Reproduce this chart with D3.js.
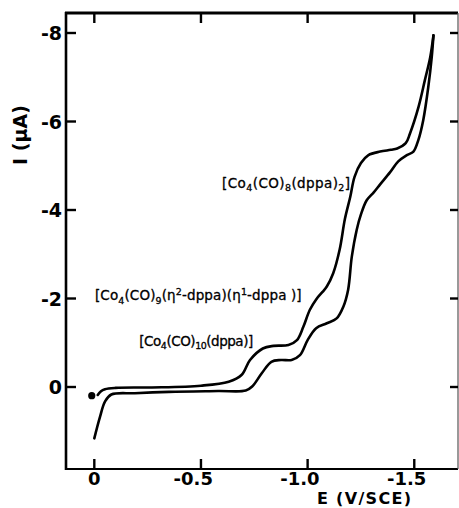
<!DOCTYPE html>
<html><head><meta charset="utf-8">
<script src="https://cdn.jsdelivr.net/npm/d3@7"></script>
<style>html,body{margin:0;padding:0;background:#fff;} svg{display:block;}</style>
</head><body>
<svg id="c" width="459" height="508"></svg>
<script>
// ---- data (E in V vs SCE, I in µA) ----
const upperCurveE = [-0.016,-0.03,-0.05,-0.10,-0.27,-0.50,-0.63,-0.69,-0.73,-0.79,-0.84,-0.91,-0.95,-0.98,-1.01,-1.04,-1.07,-1.09,-1.12,-1.15,-1.175,-1.20,-1.22,-1.25,-1.285,-1.34,-1.39,-1.42,-1.46,-1.48,-1.52,-1.55,-1.575,-1.59];
const upperCurveI = [0.18,0.10,0.05,0.02,0.01,-0.03,-0.12,-0.27,-0.61,-0.87,-0.93,-0.95,-1.06,-1.36,-1.74,-1.98,-2.15,-2.27,-2.57,-3.10,-3.8,-4.30,-4.75,-5.06,-5.24,-5.32,-5.36,-5.39,-5.51,-5.73,-6.33,-6.94,-7.46,-7.95];
const lowerCurveE = [0.0,-0.027,-0.05,-0.08,-0.19,-0.35,-0.58,-0.71,-0.74,-0.785,-0.83,-0.875,-0.925,-0.964,-1.00,-1.04,-1.09,-1.136,-1.167,-1.19,-1.207,-1.23,-1.25,-1.277,-1.31,-1.34,-1.386,-1.425,-1.465,-1.496,-1.519,-1.542,-1.566,-1.582,-1.59];
const lowerCurveI = [1.16,0.67,0.33,0.17,0.14,0.11,0.09,0.08,-0.01,-0.31,-0.57,-0.61,-0.61,-0.72,-1.06,-1.33,-1.44,-1.55,-1.81,-2.2,-2.94,-3.55,-3.9,-4.22,-4.40,-4.58,-4.85,-5.10,-5.24,-5.32,-5.58,-6.03,-6.79,-7.46,-7.95];
const startPointE = [0.012];
const startPointI = [0.197];

const xTickValues = [0, -0.5, -1.0, -1.5];
const xTickLabels = ["0", "-0.5", "-1.0", "-1.5"];
const yTickValues = [-8, -6, -4, -2, 0];
const yTickLabels = ["-8", "-6", "-4", "-2", "0"];
const xAxisTitle = "E (V/SCE)";
const yAxisTitle = "I (μA)";

// annotation text pieces: [text, kind]
const annotationTexts = [
  [["[Co","n"],["4","sub"],["(CO)","n"],["8","sub"],["(dppa)","n"],["2","sub"],["]","n"]],
  [["[Co","n"],["4","sub"],["(CO)","n"],["9","sub"],["(η","n"],["2","sup"],["-dppa)(η","n"],["1","sup"],["-dppa )]","n"]],
  [["[Co","n"],["4","sub"],["(CO)","n"],["10","sub"],["(dppa)]","n"]]
];
const annotationStartE = [-0.599, -0.003, -0.211];
const annotationEndE   = [-1.199, -0.972, -0.745];
const annotationI      = [-4.50, -1.966, -0.927];

// ---- layout ----
const L = 66, R = 458, T = 13, B = 469;
const x = d3.scaleLinear().domain([0.1327, -1.705]).range([L, R]);
const y = d3.scaleLinear().domain([1.853, -8.452]).range([B, T]);

const svg = d3.select("#c");
const tickFont = "'DejaVu Sans', 'Liberation Sans', Arial, sans-serif";

// curves
const line = d3.line().x(d => x(d[0])).y(d => y(d[1])).curve(d3.curveCatmullRom.alpha(0.5));
const upper = upperCurveE.map((e, i) => [e, upperCurveI[i]]);
const lower = lowerCurveE.map((e, i) => [e, lowerCurveI[i]]);
svg.selectAll("path.curve").data([upper, lower]).enter().append("path")
  .attr("class", "curve").attr("d", line)
  .attr("fill", "none").attr("stroke", "#000").attr("stroke-width", 2.6)
  .attr("stroke-linejoin", "round").attr("stroke-linecap", "round");

svg.selectAll("circle.start").data(startPointE).enter().append("circle")
  .attr("cx", d => x(d)).attr("cy", (d, i) => y(startPointI[i])).attr("r", 3.6).attr("fill", "#000");

// frame
svg.append("line").attr("x1", L).attr("x2", L).attr("y1", T - 1).attr("y2", B + 1).attr("stroke", "#000").attr("stroke-width", 2.6);
svg.append("line").attr("x1", L - 1).attr("x2", R).attr("y1", T).attr("y2", T).attr("stroke", "#000").attr("stroke-width", 2.8);
svg.append("line").attr("x1", L - 1).attr("x2", R).attr("y1", B).attr("y2", B).attr("stroke", "#000").attr("stroke-width", 2.2);
svg.append("line").attr("x1", R).attr("x2", R).attr("y1", T).attr("y2", B).attr("stroke", "#555").attr("stroke-width", 1.2);

// ticks (inward)
const tk = 10;
xTickValues.forEach(v => {
  svg.append("line").attr("x1", x(v)).attr("x2", x(v)).attr("y1", B).attr("y2", B - tk).attr("stroke", "#000").attr("stroke-width", 2.4);
  svg.append("line").attr("x1", x(v)).attr("x2", x(v)).attr("y1", T).attr("y2", T + tk).attr("stroke", "#000").attr("stroke-width", 2.4);
});
yTickValues.forEach(v => {
  svg.append("line").attr("x1", L).attr("x2", L + tk).attr("y1", y(v)).attr("y2", y(v)).attr("stroke", "#000").attr("stroke-width", 2.4);
  svg.append("line").attr("x1", R).attr("x2", R - 8).attr("y1", y(v)).attr("y2", y(v)).attr("stroke", "#000").attr("stroke-width", 2.4);
});

// tick labels
svg.selectAll("text.xt").data(xTickValues).enter().append("text")
  .attr("class", "xt")
  .attr("x", d => d === 0 ? x(d) : x(d) + 12)
  .attr("y", 484.5)
  .attr("text-anchor", d => d === 0 ? "middle" : "end")
  .attr("font-family", tickFont).attr("font-weight", "bold").attr("font-size", 18)
  .text((d, i) => xTickLabels[i]);
svg.selectAll("text.yt").data(yTickValues).enter().append("text")
  .attr("class", "yt")
  .attr("x", 62).attr("y", d => y(d) + 7)
  .attr("text-anchor", "end")
  .attr("font-family", tickFont).attr("font-weight", "bold").attr("font-size", 19)
  .text((d, i) => yTickLabels[i]);

// axis titles
svg.append("text").attr("x", 364).attr("y", 504).attr("text-anchor", "middle")
  .attr("font-family", tickFont).attr("font-weight", "bold").attr("font-size", 16)
  .attr("textLength", 94).attr("lengthAdjust", "spacing").text(xAxisTitle);
svg.append("text").attr("transform", "translate(27,135) rotate(-90)").attr("text-anchor", "middle")
  .attr("font-family", tickFont).attr("font-weight", "bold").attr("font-size", 19)
  .text(yAxisTitle);

// annotations
annotationTexts.forEach((parts, k) => {
  const x0 = x(annotationStartE[k]), x1 = x(annotationEndE[k]);
  const t = svg.append("text").attr("x", x0).attr("y", y(annotationI[k]))
    .attr("font-family", tickFont).attr("font-size", 13.5).attr("fill", "#000")
    .attr("stroke", "#000").attr("stroke-width", 0.3)
    .attr("textLength", x1 - x0).attr("lengthAdjust", "spacing");
  let cur = 0;
  parts.forEach(([s, kind]) => {
    const target = kind === "sub" ? 3.5 : kind === "sup" ? -5 : 0;
    t.append("tspan").attr("dy", target - cur).attr("font-size", kind === "n" ? 13.5 : 9.5).text(s);
    cur = target;
  });
});
</script>
</body></html>
